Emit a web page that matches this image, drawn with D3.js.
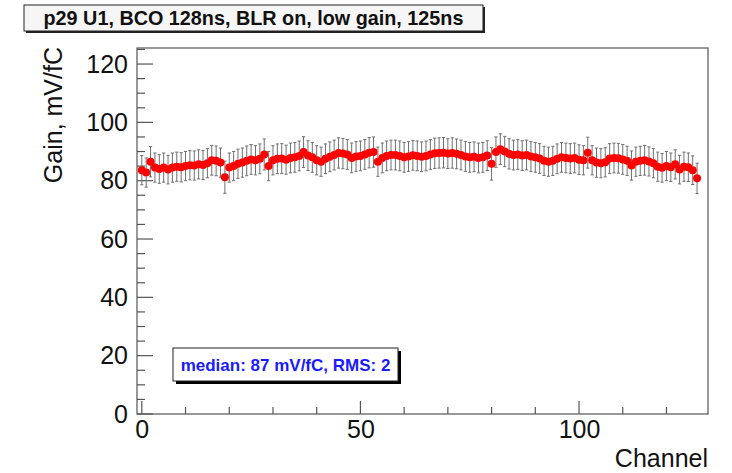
<!DOCTYPE html>
<html>
<head>
<meta charset="utf-8">
<script src="https://cdn.jsdelivr.net/npm/d3@7"></script>
<style>
  html, body { margin: 0; padding: 0; background: #fff; }
  svg { display: block; font-family: "Liberation Sans", Arial, Helvetica, sans-serif; }
</style>
</head>
<body>
<svg id="chart" width="732" height="473"></svg>
<script>
// ---- data ----
const titleText = "p29 U1, BCO 128ns, BLR on, low gain, 125ns";
const statsText = "median: 87 mV/fC, RMS: 2";
const xLabel = "Channel";
const yLabel = "Gain, mV/fC";
const xTicks = [0, 50, 100];
const yTicks = [0, 20, 40, 60, 80, 100, 120];

const gain = [
  83.6, 82.8, 86.5, 84.5, 84.0, 84.5, 83.8, 84.5, 84.8, 84.6,
  85.0, 85.3, 85.2, 85.6, 85.4, 86.0, 87.0, 86.8, 86.2, 81.2,
  84.5, 85.0, 85.8, 86.2, 86.8, 87.3, 87.0, 87.5, 89.0, 85.0,
  87.0, 87.5, 87.6, 87.2, 87.8, 88.0, 88.5, 89.8, 88.6, 88.0,
  87.0, 86.5, 87.5, 88.2, 88.8, 89.5, 89.3, 89.0, 87.8, 88.3,
  88.5, 89.0, 89.6, 89.8, 86.5, 87.8, 88.5, 88.8, 88.8, 88.5,
  88.0, 88.3, 88.7, 88.5, 88.2, 88.5, 89.0, 89.4, 89.5, 89.6,
  89.3, 89.5, 89.2, 88.8, 88.3, 88.0, 88.2, 87.8, 88.0, 88.6,
  85.8, 89.8, 90.8, 90.0, 89.2, 88.8, 89.0, 88.6, 88.8, 88.3,
  88.0, 87.6, 86.8, 86.5, 86.8, 87.5, 88.0, 87.8, 87.6, 87.8,
  87.2, 87.0, 89.6, 87.0, 86.2, 86.0, 86.3, 87.6, 87.8, 87.7,
  87.3, 86.8, 85.2, 86.5, 86.8, 87.0, 86.6, 86.0, 84.8, 84.4,
  85.0, 84.6, 85.6, 83.8, 84.8, 84.6, 83.6, 80.8
];
const gainErr = [
  5.0, 5.0, 5.2, 5.0, 4.9, 5.0, 4.9, 5.0, 5.0, 5.0,
  5.0, 5.0, 5.0, 5.0, 5.0, 5.0, 5.1, 5.1, 5.0, 5.5,
  5.0, 5.0, 5.0, 5.0, 5.1, 5.1, 5.0, 5.1, 5.3, 5.0,
  5.0, 5.1, 5.1, 5.0, 5.1, 5.1, 5.1, 5.3, 5.1, 5.1,
  5.0, 5.0, 5.1, 5.1, 5.1, 5.2, 5.2, 5.1, 5.1, 5.1,
  5.1, 5.1, 5.2, 5.2, 5.0, 5.1, 5.1, 5.1, 5.1, 5.1,
  5.1, 5.1, 5.1, 5.1, 5.1, 5.1, 5.1, 5.2, 5.2, 5.2,
  5.1, 5.2, 5.1, 5.1, 5.1, 5.1, 5.1, 5.1, 5.1, 5.1,
  5.6, 5.2, 5.3, 5.2, 5.2, 5.1, 5.1, 5.1, 5.1, 5.1,
  5.1, 5.1, 5.0, 5.0, 5.0, 5.1, 5.1, 5.1, 5.1, 5.1,
  5.1, 5.0, 5.3, 5.0, 5.0, 5.0, 5.0, 5.1, 5.1, 5.1,
  5.1, 5.0, 5.0, 5.0, 5.0, 5.1, 5.0, 5.0, 5.0, 4.9,
  5.0, 4.9, 5.0, 4.9, 5.0, 4.9, 4.9, 5.2
];
const channels = gain.map((_, i) => i);

// ---- layout ----
const svg = d3.select("#chart");
const frame = { left: 137, right: 708, top: 48, bottom: 414 };
const x = d3.scaleLinear().domain([-1.1, 129.5]).range([frame.left, frame.right]);
const y = d3.scaleLinear().domain([0, 125.5]).range([frame.bottom, frame.top]);
const frameColor = "#555";
const tickFont = 25;

// frame
svg.append("rect")
  .attr("x", frame.left).attr("y", frame.top)
  .attr("width", frame.right - frame.left).attr("height", frame.bottom - frame.top)
  .attr("fill", "#fff").attr("stroke", frameColor).attr("stroke-width", 1.2);

// y axis (ticks pointing inward)
const yMinor = d3.range(0, 126, 5);
const yAxisG = svg.append("g").attr("transform", `translate(${frame.left},0)`);
yAxisG.selectAll("line.minor").data(yMinor).join("line")
  .attr("x1", 0).attr("x2", d => d % 20 === 0 ? 16 : 8)
  .attr("y1", d => y(d)).attr("y2", d => y(d))
  .attr("stroke", frameColor).attr("stroke-width", 1.2);
const yAx = d3.axisLeft(y).tickValues(yTicks).tickSize(0).tickPadding(9).tickFormat(d3.format("d"));
yAxisG.call(yAx);
yAxisG.select(".domain").remove();
yAxisG.selectAll("text").attr("font-size", tickFont).attr("fill", "#111")
  .attr("font-family", "Liberation Sans, Arial, sans-serif");

// x axis (ticks pointing up)
const xMinor = d3.range(0, 130, 10);
const xAxisG = svg.append("g").attr("transform", `translate(0,${frame.bottom})`);
xAxisG.selectAll("line.minor").data(xMinor).join("line")
  .attr("x1", d => x(d)).attr("x2", d => x(d))
  .attr("y1", 0).attr("y2", d => d % 50 === 0 ? -13 : -7)
  .attr("stroke", frameColor).attr("stroke-width", 1.2);
const xAx = d3.axisBottom(x).tickValues(xTicks).tickSize(0).tickPadding(6).tickFormat(d3.format("d"));
xAxisG.call(xAx);
xAxisG.select(".domain").remove();
xAxisG.selectAll("text").attr("font-size", tickFont).attr("fill", "#111")
  .attr("font-family", "Liberation Sans, Arial, sans-serif");

// axis titles
svg.append("text")
  .attr("x", frame.right).attr("y", 467)
  .attr("text-anchor", "end").attr("font-size", tickFont).attr("fill", "#111")
  .text(xLabel);
svg.append("text")
  .attr("transform", `translate(62,${frame.top - 1}) rotate(-90)`)
  .attr("text-anchor", "end").attr("font-size", tickFont).attr("fill", "#111")
  .text(yLabel);

// error bars
const eb = svg.append("g");
const cap = 1.6;
channels.forEach((c, i) => {
  const cx = x(c), yt = y(gain[i] + gainErr[i]), yb = y(gain[i] - gainErr[i]);
  eb.append("line").attr("x1", cx).attr("x2", cx).attr("y1", yt).attr("y2", yb)
    .attr("stroke", "#707070").attr("stroke-width", 1);
  eb.append("line").attr("x1", cx - cap).attr("x2", cx + cap).attr("y1", yt).attr("y2", yt)
    .attr("stroke", "#707070").attr("stroke-width", 1);
  eb.append("line").attr("x1", cx - cap).attr("x2", cx + cap).attr("y1", yb).attr("y2", yb)
    .attr("stroke", "#707070").attr("stroke-width", 1);
});

// points
svg.append("g").selectAll("circle").data(channels).join("circle")
  .attr("cx", d => x(d)).attr("cy", (d, i) => y(gain[i])).attr("r", 4)
  .attr("fill", "#ff0000");

// title box
const tb = { x: 24, y: 5, w: 459, h: 26 };
svg.append("rect").attr("x", tb.x + 2).attr("y", tb.y + 2).attr("width", tb.w).attr("height", tb.h).attr("fill", "#222");
svg.append("rect").attr("x", tb.x).attr("y", tb.y).attr("width", tb.w).attr("height", tb.h)
  .attr("fill", "#f6f6f6").attr("stroke", "#222").attr("stroke-width", 1);
svg.append("text").attr("x", tb.x + tb.w / 2).attr("y", tb.y + 20)
  .attr("text-anchor", "middle").attr("font-size", 19.8).attr("font-weight", "bold").attr("fill", "#111")
  .text(titleText);

// stats box
const sb = { x: 173, y: 348, w: 225, h: 33 };
svg.append("rect").attr("x", sb.x + 3).attr("y", sb.y + 3).attr("width", sb.w).attr("height", sb.h).attr("fill", "#000");
svg.append("rect").attr("x", sb.x).attr("y", sb.y).attr("width", sb.w).attr("height", sb.h)
  .attr("fill", "#fff").attr("stroke", "#222").attr("stroke-width", 1);
svg.append("text").attr("x", sb.x + sb.w / 2).attr("y", sb.y + 22.5)
  .attr("text-anchor", "middle").attr("font-size", 17).attr("font-weight", "bold").attr("fill", "#1a1aff")
  .text(statsText);
</script>
</body>
</html>
